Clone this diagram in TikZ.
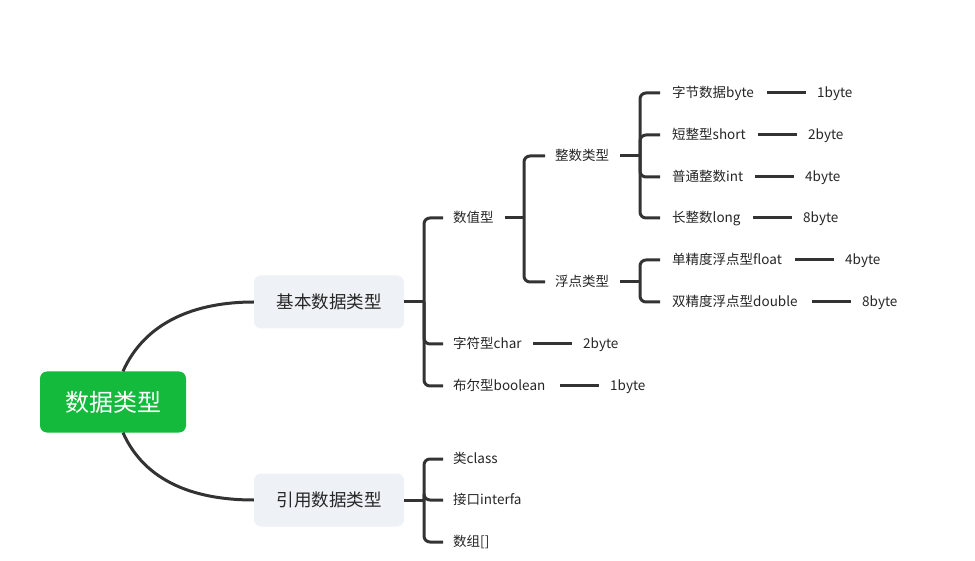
\documentclass[tikz,border=0pt]{standalone}
\usepackage{fontspec}
\setmainfont{Noto Sans CJK SC}
\begin{document}
\begin{tikzpicture}[x=1pt,y=-1pt,
  conn/.style={draw=black!80, line width=3pt},
  lbl/.style={anchor=west, inner sep=0pt, text height=12.5pt, text depth=3pt, font=\fontsize{13.5}{14}\selectfont, text=black!85},
  subbox/.style={fill=boxgray, rounded corners=7pt, minimum width=150pt, minimum height=53pt, inner sep=0pt, font=\fontsize{17.5}{18}\selectfont, text=black!85},
]
\definecolor{boxgray}{HTML}{EEF1F5}
\definecolor{rootgreen}{HTML}{13BA3B}
\useasboundingbox (0,0) rectangle (975,561);
\fill[white] (0,0) rectangle (975,561);

% root and main branches
\node[fill=rootgreen, rounded corners=7pt, minimum width=146pt, minimum height=61pt, inner sep=0pt, text=white, font=\fontsize{24}{26}\selectfont] (root) at (113,402) {数据类型};
\node[subbox] (basic) at (329,302) {基本数据类型};
\node[subbox] (ref) at (329,500) {引用数据类型};

\draw[conn] ([xshift=10pt]root.north) .. controls (145,322) and (195,302) .. (basic.west);
\draw[conn] ([xshift=10pt]root.south) .. controls (145,482) and (195,500) .. (ref.west);

% level 2 labels
\node[lbl] (num) at (453,218) {数值型};
\node[lbl] (char) at (453,344) {字符型char};
\node[lbl] (bool) at (453,386) {布尔型boolean};
\node[lbl] (cls) at (453,459) {类class};
\node[lbl] (itf) at (453,500) {接口interfa};
\node[lbl] (arr) at (453,542) {数组[]};

% level 3
\node[lbl] (int) at (555,156) {整数类型};
\node[lbl] (flt) at (555,282) {浮点类型};

% level 4
\node[lbl] (byte) at (672,93) {字节数据byte};
\node[lbl] (short) at (672,135) {短整型short};
\node[lbl] (inti) at (672,177) {普通整数int};
\node[lbl] (long) at (672,218) {长整数long};
\node[lbl] (float) at (672,260) {单精度浮点型float};
\node[lbl] (double) at (672,302) {双精度浮点型double};

% sizes
\node[lbl] (sbyte) at (817,93) {1byte};
\node[lbl] (sshort) at (808,135) {2byte};
\node[lbl] (sint) at (805,177) {4byte};
\node[lbl] (slong) at (803,218) {8byte};
\node[lbl] (sfloat) at (845,260) {4byte};
\node[lbl] (sdouble) at (862,302) {8byte};
\node[lbl] (schar) at (583,344) {2byte};
\node[lbl] (sbool) at (610,386) {1byte};

% brackets
\coordinate (bb) at (424,302);
\draw[conn] (basic.east) -- (bb);
\foreach \c in {num,char,bool}
  \draw[conn, rounded corners=6pt] (bb) |- ([xshift=-10pt]\c.west);
\coordinate (rb) at (424,500);
\draw[conn] (ref.east) -- (rb);
\foreach \c in {cls,itf,arr}
  \draw[conn, rounded corners=6pt] (rb) |- ([xshift=-10pt]\c.west);

\coordinate (nb) at (524,218);
\draw[conn] ([xshift=11pt]num.east) -- (nb);
\foreach \c in {int,flt}
  \draw[conn, rounded corners=6pt] (nb) |- ([xshift=-10pt]\c.west);

\coordinate (ib) at (640,156);
\draw[conn] ([xshift=11pt]int.east) -- (ib);
\foreach \c in {byte,short,inti,long}
  \draw[conn, rounded corners=6pt] (ib) |- ([xshift=-12pt]\c.west);

\coordinate (fb) at (640,282);
\draw[conn] ([xshift=11pt]flt.east) -- (fb);
\foreach \c in {float,double}
  \draw[conn, rounded corners=6pt] (fb) |- ([xshift=-12pt]\c.west);

% size lines
\foreach \a/\b in {byte/sbyte,short/sshort,inti/sint,long/slong,float/sfloat,double/sdouble,char/schar,bool/sbool}
  \draw[conn] ([xshift=-50pt]\b.west) -- ([xshift=-11pt]\b.west);
\end{tikzpicture}
\end{document}
